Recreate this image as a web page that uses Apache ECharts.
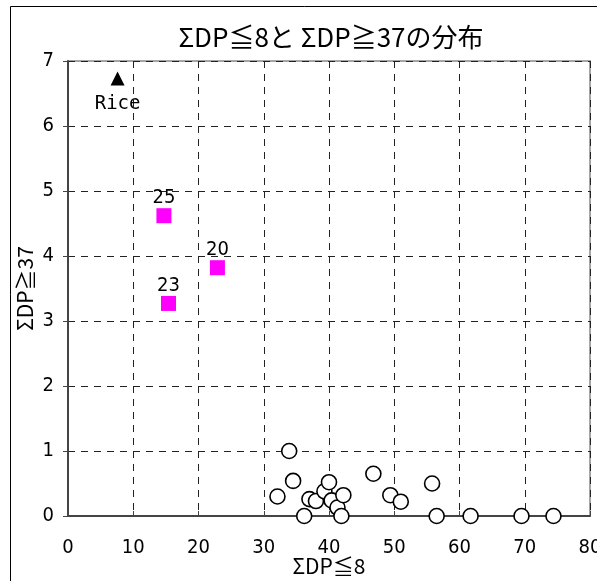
<!DOCTYPE html>
<html>
<head>
<meta charset="utf-8">
<script src="https://cdn.jsdelivr.net/npm/echarts@6/dist/echarts.min.js"></script>
<style>
  html, body { margin: 0; padding: 0; background: #fff; }
  #chart { width: 597px; height: 581px; }
</style>
</head>
<body>
<div id="chart"></div>
<script>
// ΣDP≦8 (x) vs ΣDP≧37 (y)
const circleX = [33.9, 34.5, 32.1, 36.2, 37.0, 38.0, 39.3, 40.0, 40.4, 41.3, 42.2, 41.9, 46.8, 49.4, 51.0, 55.8, 56.5, 61.7, 69.5, 74.4];
const circleY = [1.00, 0.54, 0.30, 0.00, 0.26, 0.23, 0.38, 0.52, 0.24, 0.13, 0.32, 0.00, 0.65, 0.32, 0.22, 0.50, 0.00, 0.00, 0.00, 0.00];

const markedNames = ['25', '20', '23'];
const markedX = [14.7, 22.9, 15.4];
const markedY = [4.62, 3.82, 3.27];

const riceName = 'Rice';
const riceX = [7.6];
const riceY = [6.73];

const xTicks = [0, 10, 20, 30, 40, 50, 60, 70, 80];
const yTicks = [0, 1, 2, 3, 4, 5, 6, 7];

const titleText = 'ΣDP≦8と ΣDP≧37の分布';
const xName = 'ΣDP≦8';
const yName = 'ΣDP≧37';

const numFont = "'Liberation Sans Narrow', 'DejaVu Sans Condensed', 'Noto Sans CJK JP', sans-serif";
const cjkFont = "'Noto Sans CJK JP', sans-serif";

const zip = (xs, ys) => xs.map((x, i) => [x, ys[i]]);

const chart = echarts.init(document.getElementById('chart'), null, { renderer: 'canvas' });

chart.setOption({
  animation: false,
  backgroundColor: '#fff',
  title: {
    text: titleText,
    left: 326,
    textAlign: 'center',
    top: 19,
    textStyle: { fontFamily: cjkFont, fontSize: 26, fontWeight: 'normal', color: '#000' }
  },
  graphic: [
    {
      type: 'rect',
      shape: { x: 10.5, y: 6.5, width: 620, height: 620 },
      style: { fill: null, stroke: '#000', lineWidth: 1 },
      silent: true
    }
  ],
  grid: {
    left: 68, top: 61, right: 7, bottom: 65,
    outerBoundsMode: 'none', containLabel: false,
    show: true, borderColor: '#888', borderWidth: 1.5
  },
  xAxis: {
    type: 'value',
    min: xTicks[0], max: xTicks[xTicks.length - 1], interval: 10,
    name: xName, nameLocation: 'middle', nameGap: 40, nameMoveOverlap: false,
    nameTextStyle: { fontFamily: cjkFont, fontSize: 21, color: '#000' },
    axisLine: { show: true, lineStyle: { color: '#444', width: 2 } },
    axisTick: { show: true, inside: true, length: 5, lineStyle: { color: '#444' } },
    axisLabel: { margin: 22, fontFamily: numFont, fontSize: 20, color: '#000' },
    splitLine: { show: true, lineStyle: { color: '#222', type: [7, 6], width: 1 } }
  },
  yAxis: {
    type: 'value',
    min: yTicks[0], max: yTicks[yTicks.length - 1], interval: 1,
    name: yName, nameLocation: 'middle', nameGap: 32, nameRotate: 90, nameMoveOverlap: false,
    nameTextStyle: { fontFamily: cjkFont, fontSize: 21, color: '#000' },
    axisLine: { show: true, lineStyle: { color: '#444', width: 2 } },
    axisTick: { show: true, inside: false, length: 5, lineStyle: { color: '#444' } },
    axisLabel: { margin: 14, fontFamily: numFont, fontSize: 20, color: '#000' },
    splitLine: { show: true, lineStyle: { color: '#222', type: [7, 6], width: 1 } }
  },
  series: [
    {
      type: 'scatter',
      symbol: 'circle',
      symbolSize: 15,
      data: zip(circleX, circleY),
      itemStyle: { color: '#fff', borderColor: '#000', borderWidth: 1.6, opacity: 1 },
      z: 3
    },
    {
      type: 'scatter',
      symbol: 'rect',
      symbolSize: 15,
      data: zip(markedX, markedY).map((p, i) => ({ value: p, name: markedNames[i] })),
      itemStyle: { color: '#ff00ff', opacity: 1 },
      label: {
        show: true, position: 'top', distance: 0,
        formatter: p => p.name,
        fontFamily: numFont, fontSize: 20, color: '#000'
      },
      z: 4
    },
    {
      type: 'scatter',
      symbol: 'triangle',
      symbolSize: 14,
      data: zip(riceX, riceY).map(p => ({ value: p, name: riceName })),
      itemStyle: { color: '#000', opacity: 1 },
      label: {
        show: true, position: 'bottom', distance: 9,
        formatter: p => p.name,
        fontFamily: "'DejaVu Sans Mono', monospace", fontSize: 19, color: '#000'
      },
      z: 4
    }
  ]
});
</script>
</body>
</html>
